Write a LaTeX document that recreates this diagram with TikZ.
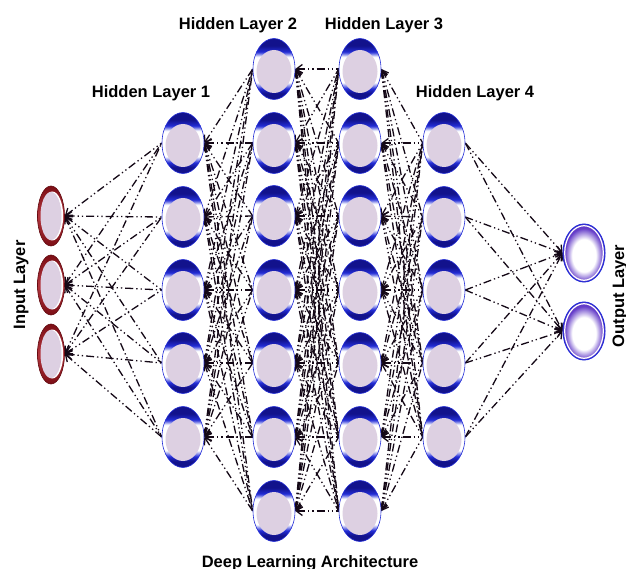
\documentclass[tikz,border=0pt]{standalone}
\usepackage{fontspec}
\setmainfont{Liberation Sans}
\usetikzlibrary{shapes.geometric,arrows.meta}
\definecolor{lav}{RGB}{221,208,226}
\definecolor{rimD}{RGB}{18,18,140}
\definecolor{rimB}{RGB}{35,45,215}
\definecolor{rimred}{RGB}{165,18,28}
\definecolor{outv}{RGB}{100,60,200}
\definecolor{linec}{RGB}{20,8,22}
\pgfdeclareverticalshading{hsh}{100bp}{color(0bp)=(rimD); color(25bp)=(rimD); color(30bp)=(rimD); color(34bp)=(rimB); color(39bp)=(white); color(60bp)=(white); color(64bp)=(rimB); color(69bp)=(rimD); color(75bp)=(rimD); color(100bp)=(rimD)}
\pgfdeclareradialshading{osh}{\pgfpoint{0bp}{-3bp}}{color(0bp)=(white); color(14bp)=(white); color(23bp)=(outv); color(25bp)=(outv); color(50bp)=(outv)}
\pgfdeclareverticalshading{ish}{100bp}{color(0bp)=(rimred!75!black); color(25bp)=(rimred!75!black); color(50bp)=(rimred!85!white); color(75bp)=(rimred!75!black); color(100bp)=(rimred!75!black)}
\pgfdeclarelayer{bg}
\pgfsetlayers{bg,main}
\tikzset{
  hnode/.style={ellipse, minimum width=42pt, minimum height=61pt, inner sep=0pt,
    shading=hsh, draw=rimB, line width=0.6pt,
    path picture={\fill[lav] ([yshift=-2.5pt]path picture bounding box.center) ellipse (17.5pt and 21.5pt);}},
  inode/.style={ellipse, minimum width=27pt, minimum height=60pt, inner sep=0pt,
    shading=ish, draw=rimred!60!black, line width=0.6pt,
    path picture={\fill[white] ([xshift=1.2pt]path picture bounding box.center) ellipse (11pt and 24.5pt);
      \fill[lav] (path picture bounding box.center) ellipse (10.5pt and 24pt);}},
  onode/.style={ellipse, minimum width=42pt, minimum height=58pt, inner sep=0pt,
    shading=osh, draw=rimB, line width=1pt,
    path picture={\draw[white, line width=1.2pt] (path picture bounding box.center) ellipse (19.3pt and 27.3pt);}},
  conn/.style={draw=linec, line width=1.3pt,
    dash pattern=on 8pt off 3pt on 1.3pt off 3pt on 1.3pt off 3pt},
  lbl/.style={font=\fontsize{16.5}{19}\selectfont\bfseries, inner sep=0pt, anchor=base},
  >={Straight Barb[length=6pt,width=9pt]}
}
\begin{document}
\begin{tikzpicture}[x=1pt,y=-1pt]
\useasboundingbox (0,0) rectangle (626,569);
\foreach \k/\y in {1/216,2/285,3/354} \node[inode] (i\k) at (51,\y) {};
\foreach \k/\y in {1/143,2/217,3/290,4/363,5/437} {
  \node[hnode] (a\k) at (183,\y) {};
  \node[hnode] (d\k) at (444,\y) {};
}
\foreach \k/\y in {1/69,2/143,3/216,4/290,5/363,6/437,7/511} {
  \node[hnode] (b\k) at (274,\y) {};
  \node[hnode] (c\k) at (360,\y) {};
}
\foreach \k/\y in {1/253,2/331} \node[onode] (o\k) at (584,\y) {};
\begin{pgfonlayer}{bg}
\foreach \s in {1,...,3} \foreach \t in {1,...,5} \draw[conn,<-] (i\s.east) -- (a\t.west);
\foreach \s in {1,...,5} \foreach \t in {1,...,7} \draw[conn,<-] (a\s.east) -- (b\t.west);
\foreach \s in {1,...,7} \foreach \t in {1,...,7} \draw[conn,<-] (b\s.east) -- (c\t.west);
\foreach \s in {1,...,7} \foreach \t in {1,...,5} \draw[conn,<-] (c\s.east) -- (d\t.west);
\foreach \s in {1,...,5} \foreach \t in {1,2} \draw[conn,->] (d\s.east) -- (o\t.west);
\end{pgfonlayer}
\node[lbl] (t1) at (151,98) {Hidden Layer 1};
\node[lbl] (t2) at (238,30) {Hidden Layer 2};
\node[lbl] (t3) at (384,30) {Hidden Layer 3};
\node[lbl] (t4) at (475,98) {Hidden Layer 4};
\node[lbl] (t5) at (310,567) {Deep Learning Architecture};
\node[lbl,rotate=90] (t6) at (25,285) {Input Layer};
\node[lbl,rotate=90] (t7) at (624,296) {Output Layer};
\end{tikzpicture}
\end{document}
